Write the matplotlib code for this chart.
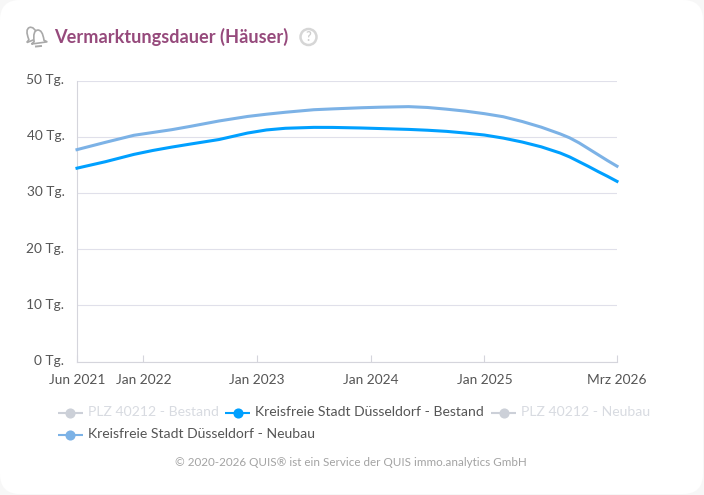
import matplotlib
matplotlib.use("Agg")
import matplotlib.pyplot as plt
from matplotlib.patches import Circle, FancyBboxPatch, PathPatch
from matplotlib.path import Path
from matplotlib.transforms import Affine2D, ScaledTranslation

plt.rcParams["font.family"] = ["Lato", "DejaVu Sans"]

# months since Jun 2021
months = [0, 3, 6, 8, 10, 12, 15, 18, 20, 22, 25, 27, 30, 32, 35, 37, 39, 41, 43, 45,
          47, 49, 51, 52, 53, 54, 55, 56, 57]
bestand = [34.4, 35.55, 36.85, 37.55, 38.15, 38.7, 39.5, 40.65, 41.2, 41.5,
           41.66, 41.65, 41.55, 41.45, 41.3, 41.15, 40.95, 40.65, 40.3, 39.75,
           39.05, 38.2, 37.1, 36.4, 35.55, 34.7, 33.8, 32.95, 32.05]
neubau = [37.7, 39.0, 40.25, 40.75, 41.25, 41.85, 42.8, 43.6, 44.0, 44.35,
          44.8, 44.95, 45.15, 45.25, 45.35, 45.2, 44.9, 44.55, 44.1, 43.55,
          42.7, 41.7, 40.5, 39.8, 38.9, 37.85, 36.8, 35.75, 34.75]

x_ticks = [0, 7, 19, 31, 43, 57]
x_labels = ["Jun 2021", "Jan 2022", "Jan 2023", "Jan 2024", "Jan 2025", "Mrz 2026"]
y_ticks = [0, 10, 20, 30, 40, 50]
y_labels = [f"{v} Tg." for v in y_ticks]

legend_items = [
    ("PLZ 40212 - Bestand", "#ccd0d8", "#d8dbe1", 57.5, 412.5),
    ("Kreisfreie Stadt Düsseldorf - Bestand", "#00a0ff", "#555555", 225, 412.5),
    ("PLZ 40212 - Neubau", "#ccd0d8", "#d8dbe1", 491, 412.5),
    ("Kreisfreie Stadt Düsseldorf - Neubau", "#7cb2e6", "#555555", 57.5, 434.5),
]

W, H = 704, 495
fig = plt.figure(figsize=(W / 100, H / 100), dpi=100, facecolor="#f7f7f7")

# full-size overlay in pixel units for the card, header and legend
bg = fig.add_axes([0, 0, 1, 1], zorder=0)
bg.set_xlim(0, W)
bg.set_ylim(H, 0)
bg.axis("off")
bg.add_patch(FancyBboxPatch((0, 0), W - 1, H - 1, boxstyle="round,pad=0,rounding_size=20",
                            fc="white", ec="none"))

# bell outline centred on its own origin, placed twice for the icon
grey = "#a9a9a9"
bell = Path([(-8, 6), (-5, 4), (-5, -7), (0, -7), (5, -7), (5, 4), (8, 6), (-8, 6)],
            [Path.MOVETO, Path.LINETO, Path.CURVE3, Path.CURVE3, Path.CURVE3, Path.CURVE3,
             Path.LINETO, Path.LINETO])
back = Affine2D().rotate_deg(-22).translate(32, 34)
front = Affine2D().rotate_deg(-8).translate(38.5, 37)
bg.add_patch(PathPatch(bell.transformed(back), fc="none", ec=grey, lw=1.2))
bg.add_patch(PathPatch(bell.transformed(front), fc="white", ec=grey, lw=1.2))
bg.plot([36, 41], [46.5, 46], color=grey, lw=1.4)

bg.text(54.5, 37, "Vermarktungsdauer (Häuser)", color="#964a7c", fontsize=13.1,
        fontweight="bold", va="center", ha="left")
bg.add_patch(Circle((308.5, 37), 8, fc="none", ec="#d6d6d6", lw=1.8))
bg.text(308.5, 37.3, "?", color="#cfcfcf", fontsize=9, fontweight="bold", ha="center", va="center")

# legend entries
for label, line_c, text_c, x0, y0 in legend_items:
    bg.plot([x0, x0 + 25], [y0, y0], color=line_c, lw=1.5, solid_capstyle="butt")
    bg.plot([x0 + 12.5], [y0], "o", color=line_c, ms=7.3, mew=0)
    bg.text(x0 + 30, y0, label, color=text_c, fontsize=10.05, va="center", ha="left")

bg.text(350.5, 463, "© 2020-2026 QUIS® ist ein Service der QUIS immo.analytics GmbH",
        color="#a3a3a3", fontsize=8.4, ha="center", va="center")

ax = fig.add_axes([77 / W, 1 - 361.5 / H, 540 / W, 281 / H], zorder=1)
ax.patch.set_alpha(0)
ax.plot(months, neubau, color="#7cb2e6", lw=2.2, zorder=3, clip_on=False)
ax.plot(months, bestand, color="#00a0ff", lw=2.2, zorder=4, clip_on=False)

ax.set_xlim(0, 57)
ax.set_ylim(0, 50)
ax.set_xticks(x_ticks, x_labels)
ax.set_yticks(y_ticks, y_labels)
ax.grid(axis="y", color="#e0e0ea", lw=0.8)
ax.set_axisbelow(True)
for side in ("top", "right"):
    ax.spines[side].set_visible(False)
for side in ("left", "bottom"):
    ax.spines[side].set_color("#d5d5dc")
    ax.spines[side].set_linewidth(0.8)
ax.tick_params(axis="x", direction="in", length=5, width=0.8, color="#d5d5dc",
               labelsize=9.9, labelcolor="#555555", pad=9)
ax.tick_params(axis="y", length=0, labelsize=9.9, labelcolor="#555555", pad=9)

# y labels sit slightly above their grid lines
lift = ScaledTranslation(0, 1.5 / 100, fig.dpi_scale_trans)
for lab in ax.get_yticklabels():
    lab.set_transform(lab.get_transform() + lift)

fig.savefig("out.png", dpi=100, facecolor=fig.get_facecolor())
